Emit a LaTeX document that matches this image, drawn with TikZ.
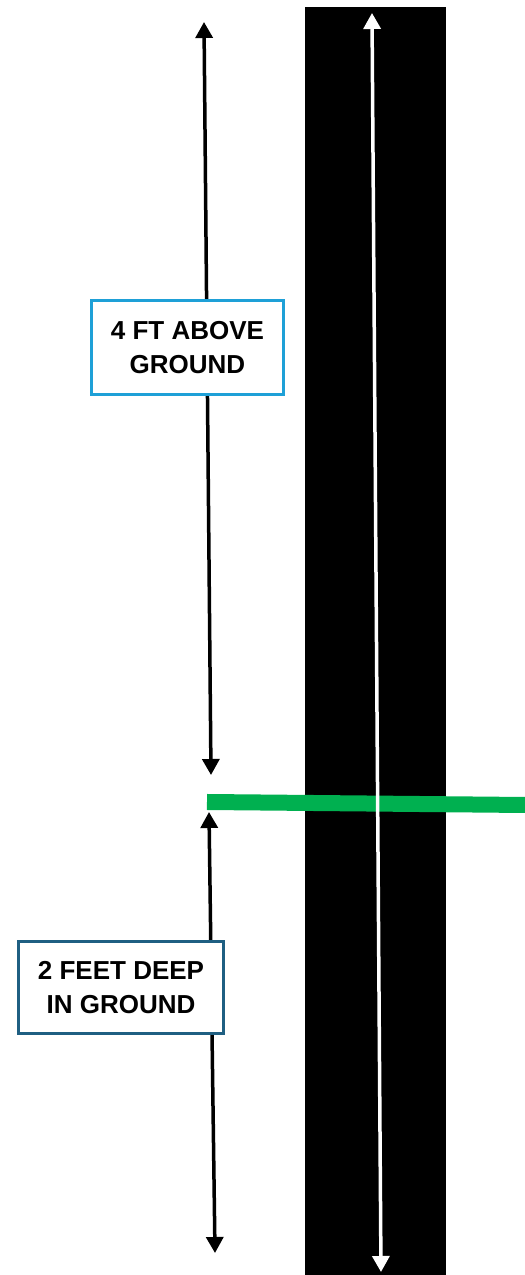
\documentclass[tikz,border=0pt]{standalone}
\usepackage{fontspec}
\setmainfont{Liberation Sans}
\usetikzlibrary{arrows.meta}
\definecolor{boxblue}{RGB}{30,160,215}
\definecolor{boxteal}{RGB}{31,95,130}
\definecolor{groundgreen}{RGB}{0,176,80}
\tikzset{
  dimarrow/.style={line width=3.5pt, {Triangle[width=17pt,length=16pt]}-{Triangle[width=17pt,length=16pt]}},
  label box/.style={draw, line width=3pt, fill=white, align=center, inner sep=0pt,
    font=\fontsize{26}{34}\selectfont\bfseries},
}
\begin{document}
\begin{tikzpicture}[x=1pt,y=1pt]
\useasboundingbox (0,0) rectangle (525,1275);
% post
\fill[black] (305,0) rectangle (446,1268);
% ground line
\coordinate (g1) at (207,473);
\coordinate (g2) at (525,470);
\draw[groundgreen, line width=16pt] (g1) -- (g2);
% white full-length arrow
\coordinate (w1) at (372,1262);
\coordinate (w2) at (381,3);
\draw[dimarrow, white] (w1) -- (w2);
% above-ground arrow
\coordinate (a1) at (204,1253);
\coordinate (a2) at (211,500);
\draw[dimarrow, black] (a1) -- (a2);
% below-ground arrow
\coordinate (b1) at (209,463);
\coordinate (b2) at (215,22);
\draw[dimarrow, black] (b1) -- (b2);
% labels
\node[label box, draw=boxblue, minimum width=192pt, minimum height=94pt] (above) at (187.5,927.5) {4 FT ABOVE\\GROUND};
\node[label box, draw=boxteal, minimum width=205pt, minimum height=92pt] (below) at (121,287.5) {2 FEET DEEP\\IN GROUND};
\end{tikzpicture}
\end{document}
